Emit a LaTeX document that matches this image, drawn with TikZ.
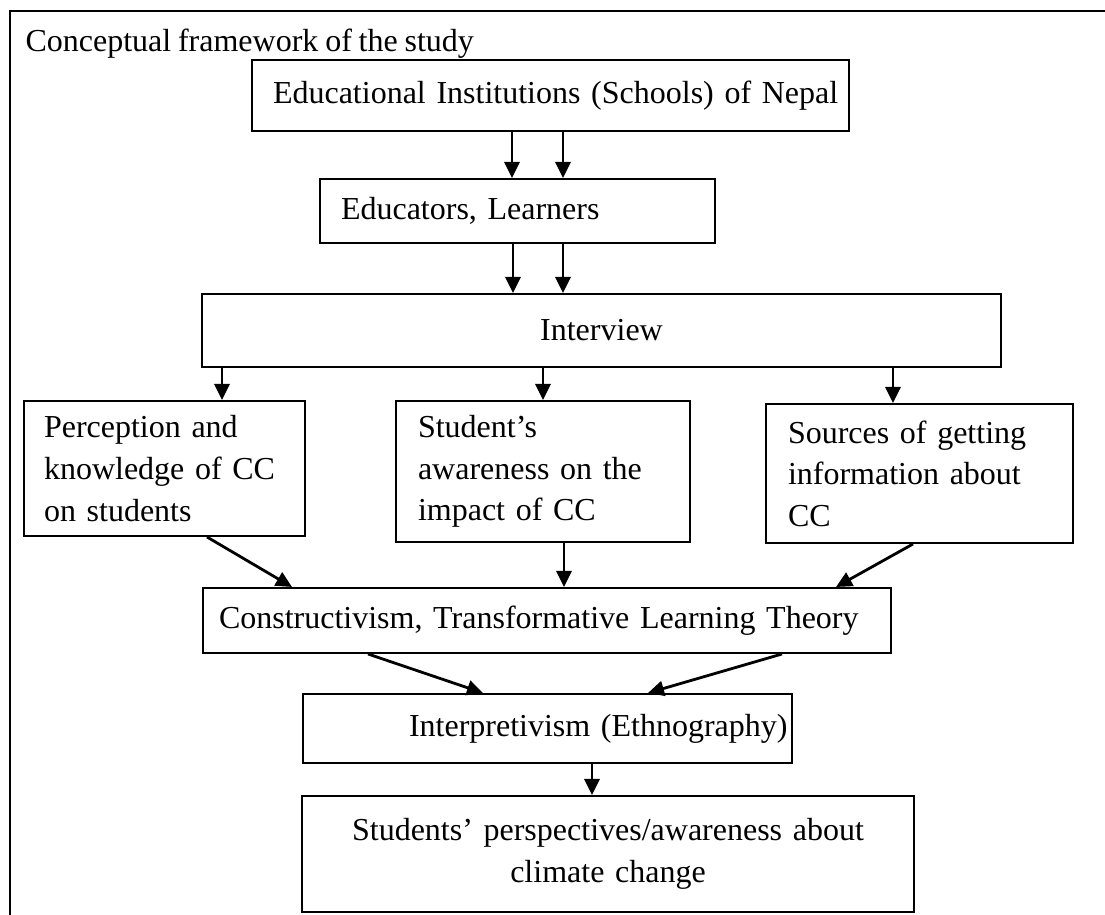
\documentclass[tikz,border=0pt]{standalone}
\usepackage{fontspec}
\setmainfont{Liberation Serif}[WordSpace=0.85]
\usetikzlibrary{arrows.meta}

\def\px{0.375pt}
\tikzset{
	box/.style={draw, line width=0.75pt, anchor=north west, inner ysep=0pt, align=left},
	cbox/.style={box, align=center},
	arr/.style={line width=1.05pt, -{Triangle[width=15*\px,length=16*\px]}},
}

\begin{document}
\begin{tikzpicture}[x=0.375pt,y=0.375pt,yscale=-1,xscale=1,
	every node/.style={font=\fontsize{12pt}{15.6pt}\selectfont}]
	\useasboundingbox (0,0) rectangle (1105,915);
	
	%Shape: Frame
	\draw [line width=1.1pt] (1105,11) -- (10,11) -- (10,915) ;
	
	% Text Node
	\node [anchor=base west, inner sep=0pt] (title) at (25,52) {Conceptual framework of the study};
	
	%Shape: Rectangle
	\node [box, inner xsep=21*\px, text width=555*\px, minimum height=71*\px] (edu) at (251,59) {\mbox{Educational Institutions (Schools) of Nepal}};
	\node [box, inner xsep=21*\px, text width=353*\px, minimum height=64*\px] (educ) at (319,178) {\mbox{Educators, Learners}};
	\node [cbox, inner xsep=20*\px, text width=759*\px, minimum height=73*\px] (intv) at (201,293) {Interview};
	\node [box, inner xsep=20*\px, text width=241*\px, minimum height=135*\px] (percep) at (23,400) {Perception and\\knowledge of CC\\on students};
	\node [box, inner xsep=22*\px, text width=250*\px, minimum height=141*\px] (stud) at (395,400) {Student’s\\awareness on the\\impact of CC};
	\node [box, inner xsep=22*\px, text width=263*\px, minimum height=139*\px] (src) at (765,403) {Sources of getting\\information about\\CC};
	\node [box, inner xsep=16*\px, text width=656*\px, minimum height=65*\px] (constr) at (202,587) {\mbox{Constructivism, Transformative Learning Theory}};
	\node [box, inner xsep=106*\px, text width=277*\px, minimum height=69*\px] (interp) at (302,693) {\mbox{Interpretivism (Ethnography)}};
	\node [cbox, inner xsep=20*\px, text width=572*\px, minimum height=116*\px] (persp) at (301,795) {Students’ perspectives/awareness about\\climate change};
	
	%Straight Lines
	\draw [arr] (edu.south -| 512,0) -- (educ.north -| 512,0) ;
	\draw [arr] (edu.south -| 563,0) -- (educ.north -| 563,0) ;
	\draw [arr] (educ.south -| 513,0) -- (intv.north -| 513,0) ;
	\draw [arr] (educ.south -| 563,0) -- (intv.north -| 563,0) ;
	\draw [arr] (intv.south -| 222,0) -- (percep.north -| 222,0) ;
	\draw [arr] (intv.south -| 543,0) -- (stud.north -| 543,0) ;
	\draw [arr] (intv.south -| 893,0) -- (src.north -| 893,0) ;
	\draw [arr] (percep.south -| 207,0) -- (constr.north -| 292,0) ;
	\draw [arr] (stud.south -| 564,0) -- (constr.north -| 564,0) ;
	\draw [arr] (src.south -| 913,0) -- (constr.north -| 836,0) ;
	\draw [arr] (constr.south -| 368,0) -- (interp.north -| 483,0) ;
	\draw [arr] (constr.south -| 782,0) -- (interp.north -| 648,0) ;
	\draw [arr] (interp.south -| 592,0) -- (persp.north -| 592,0) ;
	
\end{tikzpicture}
\end{document}
